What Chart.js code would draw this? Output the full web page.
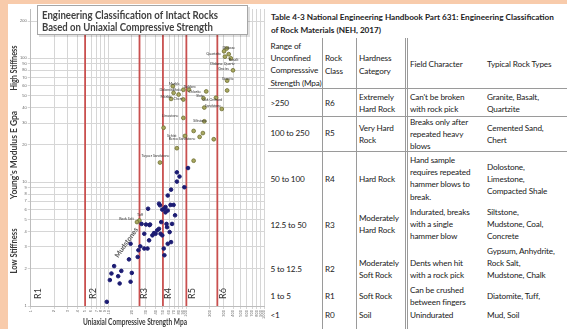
<!DOCTYPE html>
<html>
<head>
<meta charset="utf-8">
<script src="https://cdn.jsdelivr.net/npm/chart.js@4.4.1/dist/chart.umd.min.js"></script>
<style>
  html, body { margin: 0; padding: 0; }
  body { width: 567px; height: 329px; background: #f8cbab; position: relative; overflow: hidden; font-family: Lato, "Open Sans", sans-serif; }
  #panel { position: absolute; left: 8px; top: 4px; right: 0; bottom: 0; background: #fff; }
  #chartBox { position: absolute; left: 8px; top: 4px; width: 262px; height: 325px; }
  #tbl { position: absolute; left: 268px; top: 4px; width: 299px; height: 325px; background: #fff; color: #1a1a1a; font-size: 8.2px; letter-spacing: -0.15px; }
  .t { position: absolute; white-space: nowrap; line-height: 12.3px; }
  .b { font-weight: bold; color: #222; letter-spacing: 0; }
  .vl { position: absolute; width: 1px; background: #9a9a9a; }
  .hl { position: absolute; height: 1px; background: #9a9a9a; left: 0; right: 0; }
</style>
</head>
<body>
<div id="panel"></div>
<div id="chartBox"><canvas id="rockChart"></canvas></div>
<div id="tbl"></div>
<script>
// tick values on both log axes
const xTicks = [1, 2, 3, 4, 5, 6, 7, 8, 9, 10, 20, 30, 40, 50, 60, 70, 80, 90, 100, 200, 300, 400, 500, 600, 700, 800, 900, 1000];
const yTicks = [1, 2, 3, 4, 5, 6, 7, 8, 9, 10, 20, 30, 40, 50, 60, 70, 80, 90, 100, 200];

// strength class boundaries (Mpa) and class names
const classBounds = [5, 25, 50, 100, 250];
const classNames = ['R1', 'R2', 'R3', 'R4', 'R5', 'R6'];
const classLabelX = [1.25, 6.4, 29, 59, 117, 300];

// low stiffness rocks (strength Mpa, modulus Gpa)
const softUcs = [9.5, 10.4, 10.9, 11.8, 13.3, 13.9, 14.6, 18.3, 19.2, 19.9, 19.2, 23.7, 24.2, 25.6, 28.8, 31.7, 28.8, 30.3, 34.2, 33.2,
  36.6, 38.4, 40.2, 42.2, 44.5, 46.6, 47.5, 51.2, 52.2, 55.6, 57.6, 63.6, 49, 56.5, 61, 65.5, 75.5, 81.6, 75.5, 105,
  94.3, 63.6, 57.6, 44.5, 45.8, 62.6, 68.5, 52, 53.9, 57.6, 71.6, 32.2, 26.6, 33.6, 49, 53.9];
const softE = [1.08, 1.62, 1.83, 2.1, 1.74, 1.52, 1.92, 2.38, 1.57, 1.85, 3.18, 2.49, 2.82, 3.03, 2.91, 2.91, 3.83, 4.55, 4.55, 3.39,
  3.72, 3.88, 3.83, 4.08, 4.2, 3.83, 4.76, 2.91, 2.57, 4.6, 3.18, 3.28, 3.72, 4.33, 3.95, 4.6, 12, 11.1, 10.1, 13,
  9.1, 8.7, 7.8, 6.7, 6.5, 6.55, 6.55, 6.1, 5.7, 5.9, 5.4, 6.1, 4.6, 4.5, 6.0, 6.3];

// named rock types (strength Mpa, modulus Gpa)
const rockUcs = [305, 330, 350, 313, 372, 397, 334, 334, 180, 166, 240, 67, 68.5, 63.6, 79.5, 91.5, 91.5, 108, 170, 285,
  91.5, 51, 96, 170, 124, 148, 163, 225, 75.5, 45.8, 124, 24.9, 23.2];
const rockE = [114, 120, 108, 103, 100, 80, 66, 55, 54, 47.5, 48, 59.5, 52.6, 47, 51, 55.7, 46.5, 55.7, 40, 39,
  33, 27.5, 23.6, 31, 25.9, 23.2, 24.9, 22.2, 18.8, 14.4, 14.9, 4.9, 4.76];

// point annotations: text, strength, modulus
const rockLabels = [
  ['Diabase', 351, 121], ['Quartzite', 225, 108], ['Basalt', 405, 98], ['Diabase Quartz', 290, 91],
  ['Gneiss', 300, 82], ['Granite', 340, 68], ['Marble', 70, 62], ['Dolomite', 56, 56], ['Shale', 76, 56],
  ['Gabbro', 110, 59], ['Chlorite', 128, 54], ['Slate', 150, 50], ['Marble', 55, 49], ['Chert', 78, 47],
  ['Oak Orchard', 215, 46], ['Sandstone', 220, 41], ['Limestone', 62, 34], ['Siltstone', 150, 31],
  ['Schist', 65, 23.8], ['Berea Sandstone', 88, 22.2], ['Tuyaer Sandstone', 40, 16.2], ['Rock Salt', 17, 5.1], ['Tuff', 25.5, 5.4]
];

const toPoints = (xs, ys) => xs.map((v, i) => ({x: v, y: ys[i]}));

const classLines = classBounds.map(b => ({
  type: 'line',
  data: [{x: b, y: 1}, {x: b, y: 250}],
  borderColor: '#c9504f',
  borderWidth: 1.8,
  pointRadius: 0,
  order: 3
}));

const annotations = {
  id: 'annotations',
  afterDatasetsDraw(chart) {
    const {ctx, scales: {x, y}} = chart;
    ctx.save();
    // class names
    ctx.fillStyle = '#333';
    ctx.font = '9px Lato';
    ctx.textAlign = 'center';
    ctx.textBaseline = 'middle';
    classNames.forEach((name, i) => {
      ctx.save();
      ctx.translate(x.getPixelForValue(classLabelX[i]), y.getPixelForValue(1.26));
      ctx.rotate(-Math.PI / 2);
      ctx.fillText(name, 0, 0);
      ctx.restore();
    });
    // rock labels
    ctx.font = '3.6px Lato';
    ctx.fillStyle = '#333';
    rockLabels.forEach(l => {
      ctx.fillText(l[0], x.getPixelForValue(l[1]), y.getPixelForValue(l[2]));
    });
    // mudstones
    ctx.save();
    ctx.font = 'bold 7px Lato';
    ctx.fillStyle = '#555';
    ctx.translate(x.getPixelForValue(17), y.getPixelForValue(3.25));
    ctx.rotate(-0.96);
    ctx.fillText('Mudstones', 0, 0);
    ctx.restore();
    ctx.restore();
  },
  afterDraw(chart) {
    const {ctx} = chart;
    ctx.save();
    ctx.fillStyle = '#3a3a3a';
    ctx.textAlign = 'center';
    ctx.textBaseline = 'middle';
    ctx.font = 'bold 8.5px Lato';
    ctx.fillText('Uniaxial Compressive Strength Mpa', 127, 318, 104);
    const vert = (txt, cy, w) => {
      ctx.save();
      ctx.translate(6, cy);
      ctx.rotate(-Math.PI / 2);
      ctx.fillText(txt, 0, 0, w);
      ctx.restore();
    };
    vert("Young's Modulus E Gpa", 151, 100);
    vert('High Stiffness', 64, 45);
    vert('Low Stiffness', 247, 45);
    // title box
    ctx.fillStyle = 'rgba(0,0,0,0.12)';
    ctx.fillRect(31, 3, 211, 30);
    ctx.fillStyle = '#fff';
    ctx.fillRect(29, 1, 211, 30);
    ctx.strokeStyle = '#a6a6a6';
    ctx.lineWidth = 1;
    ctx.strokeRect(29.5, 1.5, 210, 29);
    ctx.fillStyle = '#404040';
    ctx.textAlign = 'left';
    ctx.font = 'bold 11px Lato';
    ctx.fillText('Engineering Classification of Intact Rocks', 34, 11, 176);
    ctx.fillText('Based on Uniaxial Compressive Strength', 34, 23, 171);
    ctx.restore();
  }
};

new Chart(document.getElementById('rockChart'), {
  type: 'scatter',
  data: {
    datasets: [
      {
        data: toPoints(softUcs, softE),
        backgroundColor: '#1c1c73',
        borderColor: '#1c1c73',
        pointRadius: 1.8,
        order: 1
      },
      {
        data: toPoints(rockUcs, rockE),
        backgroundColor: '#a8a860',
        borderColor: '#6e6e34',
        borderWidth: 0.8,
        pointRadius: 1.9,
        order: 1
      },
      ...classLines
    ]
  },
  options: {
    responsive: true,
    maintainAspectRatio: false,
    animation: false,
    layout: { padding: { top: 3.5, right: 1 } },
    plugins: {
      legend: { display: false },
      tooltip: { enabled: false }
    },
    scales: {
      x: {
        type: 'logarithmic',
        min: 1,
        max: 1000,
        afterBuildTicks: s => { s.ticks = xTicks.map(v => ({value: v})); },
        afterFit: s => { s.height = 23; },
        grid: { color: '#d6d6d6', tickLength: 3 },
        border: { color: '#bdbdbd' },
        ticks: {
          autoSkip: false,
          minRotation: 90,
          maxRotation: 90,
          padding: 1,
          font: { size: 4 },
          color: '#666',
          callback: v => String(v)
        }
      },
      y: {
        type: 'logarithmic',
        min: 1,
        max: 250,
        afterBuildTicks: s => { s.ticks = yTicks.map(v => ({value: v})); },
        afterFit: s => { s.width = 22.7; },
        grid: { color: '#d6d6d6', tickLength: 3 },
        border: { color: '#bdbdbd' },
        ticks: {
          padding: 1,
          font: { size: 4 },
          color: '#666',
          callback: v => String(v)
        }
      }
    }
  },
  plugins: [annotations]
});

// table 4-3
const tblTop = 4, tblLeft = 268;
const colX = [270.5, 325, 359, 410, 487];
const tableTitle = [
  ['Table 4-3  National Engineering Handbook Part 631: Engineering Classification', 17],
  ['of Rock Materials   (NEH, 2017)', 30.5]
];
const tableCells = [
  [0, 46, ['Range of', 'Unconfined', 'Compresssive', 'Strength (Mpa)']],
  [1, 58.5, ['Rock', 'Class']],
  [2, 58.5, ['Hardness', 'Category']],
  [3, 64.5, ['Field Character']],
  [4, 64.5, ['Typical Rock Types']],
  [0, 103, ['>250']], [1, 103, ['R6']], [2, 97, ['Extremely', 'Hard Rock']],
  [3, 97, ["Can't be broken", 'with rock pick']], [4, 97, ['Granite, Basalt,', 'Quartzite']],
  [0, 133, ['100 to 250']], [1, 133, ['R5']], [2, 128, ['Very Hard', 'Rock']],
  [3, 122, ['Breaks only after', 'repeated heavy', 'blows']], [4, 128, ['Cemented Sand,', 'Chert']],
  [0, 179, ['50 to 100']], [1, 179, ['R4']], [2, 179, ['Hard Rock']],
  [3, 160, ['Hand sample', 'requires repeated', 'hammer blows to', 'break.']], [4, 167, ['Dolostone,', 'Limestone,', 'Compacted Shale']],
  [0, 225, ['12.5 to 50']], [1, 225, ['R3']], [2, 218, ['Moderately', 'Hard Rock']],
  [3, 212, ['Indurated, breaks', 'with a single', 'hammer blow']], [4, 212, ['Siltstone,', 'Mudstone, Coal,', 'Concrete']],
  [0, 269, ['5 to 12.5']], [1, 269, ['R2']], [2, 263, ['Moderately', 'Soft Rock']],
  [3, 263, ['Dents when hit', 'with a rock pick']], [4, 251, ['Gypsum, Anhydrite,', 'Rock Salt,', 'Mudstone, Chalk']],
  [0, 296, ['1 to 5']], [1, 296, ['R1']], [2, 296, ['Soft Rock']],
  [3, 290, ['Can be crushed', 'between fingers']], [4, 296, ['Diatomite, Tuff,']],
  [0, 315, ['<1']], [1, 315, ['R0']], [2, 315, ['Soil']], [3, 315, ['Unindurated']], [4, 315, ['Mud, Soil']]
];
const vLines = [322, 356, 405, 407];
const hLines = [88, 116, 151];

const tbl = document.getElementById('tbl');
const lineH = 12.3;
tableTitle.forEach(([txt, cy]) => {
  const d = document.createElement('div');
  d.className = 't b';
  d.style.left = (271 - tblLeft) + 'px';
  d.style.top = (cy - tblTop - lineH / 2) + 'px';
  d.textContent = txt;
  tbl.appendChild(d);
});
tableCells.forEach(([col, cy, lines]) => {
  const d = document.createElement('div');
  d.className = 't';
  d.style.left = (colX[col] - tblLeft) + 'px';
  d.style.top = (cy - tblTop - lineH / 2) + 'px';
  d.innerHTML = lines.map(s => s.replace(/&/g, '&amp;').replace(/</g, '&lt;').replace(/>/g, '&gt;')).join('<br>');
  tbl.appendChild(d);
});
vLines.forEach(vx => {
  const d = document.createElement('div');
  d.className = 'vl';
  d.style.left = (vx - tblLeft) + 'px';
  d.style.top = (38 - tblTop) + 'px';
  d.style.bottom = '0px';
  tbl.appendChild(d);
});
hLines.forEach(hy => {
  const d = document.createElement('div');
  d.className = 'hl';
  d.style.top = (hy - tblTop) + 'px';
  tbl.appendChild(d);
});
</script>
</body>
</html>
